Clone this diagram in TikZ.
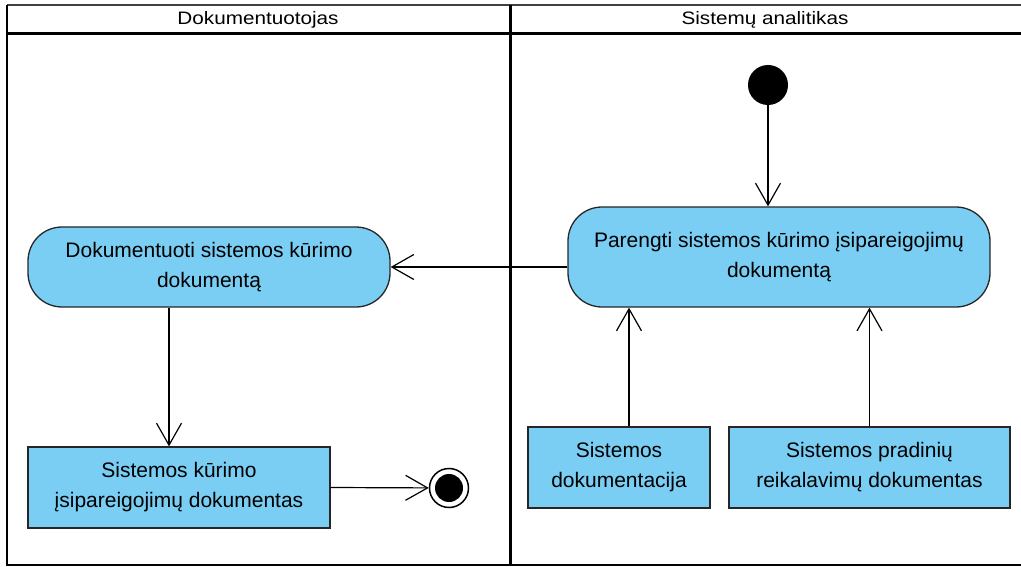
\documentclass[tikz,border=0pt]{standalone}
\usepackage{fontspec}
\setmainfont{Liberation Sans}
\newfontfamily\lanefont[FakeStretch=1.15]{Liberation Sans}
\usetikzlibrary{arrows.meta}
\definecolor{actblue}{RGB}{122,206,244}

\begin{document}
\begin{tikzpicture}[
    x=1pt, y=-1pt,
    every node/.style={font=\fontsize{21}{30}\selectfont, align=center, inner sep=0pt},
    all/.style={draw=black!85, line width=1.3pt, fill=actblue},
    act/.style={all, rounded corners=34pt},
    obj/.style={all, rectangle},
    start/.style={circle, fill=black, minimum size=40pt},
    stop/.style={circle, draw=black, line width=1.5pt, fill=white, minimum size=39pt},
    stopdot/.style={circle, fill=black, minimum size=28pt},
    lane/.style={font=\lanefont\fontsize{18}{20}\selectfont},
    flow/.style={-{Straight Barb[length=22pt, width=25pt]}, line width=1.2pt},
]
    \useasboundingbox (0,0) rectangle (1021,567);

    % swimlanes
    \draw[line width=2pt, black!75] (1021,5) -- (7,5);
    \draw[line width=2.5pt] (7,5) -- (7,565) -- (1021,565);
    \draw[line width=3pt] (7,34) -- (1021,34);
    \draw[line width=3pt] (510,5) -- (510,565);
    \node [lane] (lane1) at (258,20) {Dokumentuotojas};
    \node [lane] (lane2) at (765,20) {Sistemų analitikas};

    % nodes
    \node [start] (init) at (768,85) {};
    \node [act, minimum width=422pt, minimum height=100pt] (prep) at (779,257)
        {Parengti sistemos kūrimo įsipareigojimų\\dokumentą};
    \node [act, minimum width=362pt, minimum height=80pt] (doc) at (209,267)
        {Dokumentuoti sistemos kūrimo\\dokumentą};
    \node [obj, minimum width=302pt, minimum height=81pt] (res) at (179,487.5)
        {Sistemos kūrimo\\įsipareigojimų dokumentas};
    \node [stop] (stop) at (449,488) {};
    \node [stopdot] (stopin) at (stop) {};
    \node [obj, minimum width=182pt, minimum height=81pt] (sd) at (619,467.5)
        {Sistemos\\dokumentacija};
    \node [obj, minimum width=281pt, minimum height=81pt] (req) at (869.5,467.5)
        {Sistemos pradinių\\reikalavimų dokumentas};

    % flows
    \draw[flow] (init) -- (init |- prep.north);
    \draw[flow] (prep.west |- doc) -- (doc.east);
    \draw[flow] ([xshift=-10pt]res.north |- doc.south) -- ([xshift=-10pt]res.north);
    \draw[flow] (res.east) -- (stop);
    \draw[flow] ([xshift=10pt]sd.north) -- ([xshift=10pt]sd.north |- prep.south);
    \draw[flow] (req.north) -- (req.north |- prep.south);
\end{tikzpicture}
\end{document}
